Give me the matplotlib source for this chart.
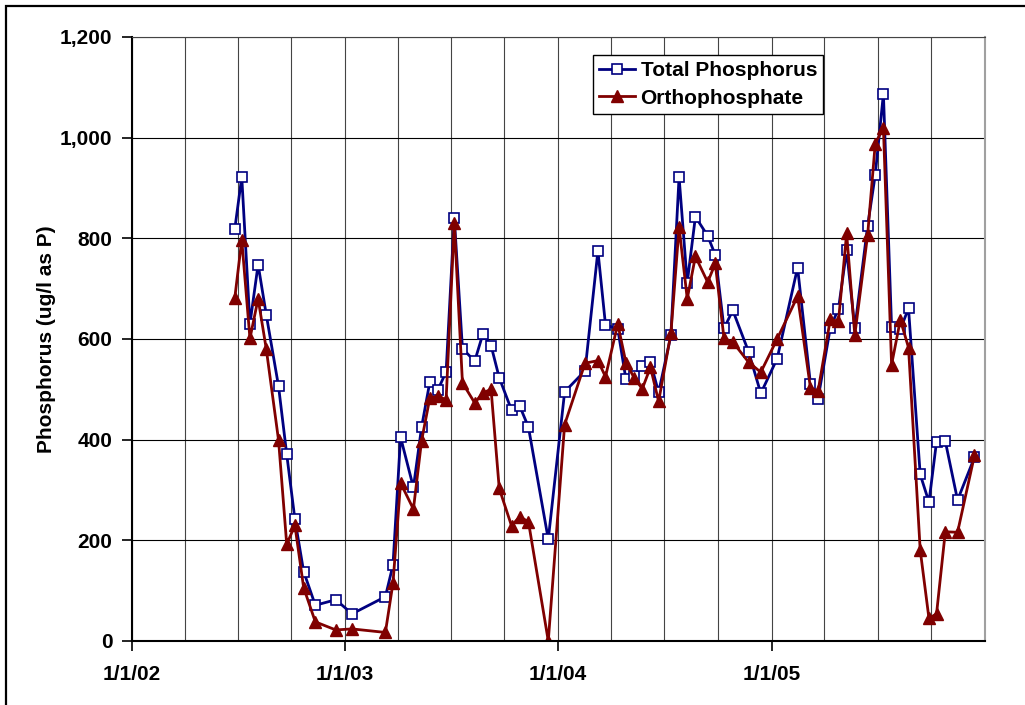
import datetime
import matplotlib
matplotlib.use('Agg')
import matplotlib.pyplot as plt
import matplotlib.dates as mdates
from matplotlib.ticker import FuncFormatter, MultipleLocator, FixedLocator
from matplotlib.patches import Rectangle

sample_dates = ['2002-06-26', '2002-07-08', '2002-07-22', '2002-08-05', '2002-08-19',
                '2002-09-09', '2002-09-23', '2002-10-07', '2002-10-22', '2002-11-11',
                '2002-12-16', '2003-01-13', '2003-03-11', '2003-03-24', '2003-04-06',
                '2003-04-28', '2003-05-12', '2003-05-26', '2003-06-09', '2003-06-23',
                '2003-07-07', '2003-07-21', '2003-08-11', '2003-08-25', '2003-09-08',
                '2003-09-22', '2003-10-13', '2003-10-27', '2003-11-11', '2003-12-15',
                '2004-01-12', '2004-02-16', '2004-03-09', '2004-03-22', '2004-04-12',
                '2004-04-26', '2004-05-10', '2004-05-24', '2004-06-07', '2004-06-21',
                '2004-07-12', '2004-07-26', '2004-08-09', '2004-08-23', '2004-09-13',
                '2004-09-26', '2004-10-11', '2004-10-26', '2004-11-22', '2004-12-13',
                '2005-01-10', '2005-02-14', '2005-03-08', '2005-03-21', '2005-04-11',
                '2005-04-25', '2005-05-09', '2005-05-23', '2005-06-14', '2005-06-27',
                '2005-07-11', '2005-07-25', '2005-08-09', '2005-08-23', '2005-09-12',
                '2005-09-27', '2005-10-10', '2005-10-25', '2005-11-15', '2005-12-14']

total_p = [818, 922, 630, 748, 648, 506, 371, 242, 138, 71,
           82, 54, 88, 151, 405, 305, 425, 514, 499, 535,
           841, 581, 556, 610, 587, 523, 459, 467, 425, 202,
           495, 537, 775, 628, 620, 520, 527, 547, 554, 494,
           607, 922, 712, 843, 805, 767, 621, 657, 575, 492,
           561, 742, 511, 481, 622, 660, 776, 621, 825, 926,
           1087, 624, 619, 661, 331, 276, 396, 397, 280, 365]

ortho_p = [681, 797, 601, 680, 580, 399, 192, 230, 106, 38,
           22, 24, 17, 115, 314, 262, 398, 482, 487, 479,
           830, 513, 473, 493, 500, 303, 229, 247, 237, 0,
           430, 552, 557, 525, 630, 553, 523, 501, 544, 476,
           611, 822, 680, 764, 713, 750, 601, 594, 554, 534,
           600, 685, 503, 496, 639, 635, 810, 608, 807, 988,
           1020, 549, 638, 583, 181, 45, 54, 217, 216, 369]

year_ticks = ['2002-01-01', '2003-01-01', '2004-01-01', '2005-01-01']

plt.rcParams['font.family'] = ['Liberation Sans', 'DejaVu Sans']
plt.rcParams['font.weight'] = 'bold'
fs = 15

dates = [datetime.datetime.strptime(d, '%Y-%m-%d') for d in sample_dates]
ticks = [datetime.datetime.strptime(d, '%Y-%m-%d') for d in year_ticks]

fig = plt.figure(figsize=(10.25, 7.05), dpi=100)
ax = fig.add_axes([132 / 1025, 1 - 641 / 705, 853 / 1025, 604 / 705])

ax.plot(dates, total_p, color='#000080', lw=2, marker='s', ms=7,
        mfc='white', mec='#000080', mew=1.2, label='Total Phosphorus')
ax.plot(dates, ortho_p, color='#800000', lw=2, marker='^', ms=8,
        mfc='#800000', mec='#800000', label='Orthophosphate')

ax.set_xlim(datetime.datetime(2002, 1, 1), datetime.datetime(2006, 1, 1))
ax.set_ylim(0, 1200)

ax.xaxis.set_major_locator(FixedLocator(mdates.date2num(ticks)))
ax.xaxis.set_major_formatter(FuncFormatter(
    lambda v, p: '{d.month}/{d.day}/{d:%y}'.format(d=mdates.num2date(v))))
ax.xaxis.set_minor_locator(mdates.MonthLocator(bymonth=[1, 4, 7, 10]))
ax.yaxis.set_major_locator(MultipleLocator(200))
ax.yaxis.set_major_formatter(FuncFormatter(lambda v, p: '{:,}'.format(int(v))))

ax.grid(True, which='major', axis='y', color='black', lw=0.8)
ax.grid(True, which='both', axis='x', color='#444444', lw=0.8)
ax.set_axisbelow(True)

ax.tick_params(axis='both', which='major', direction='out', length=7, width=1.2,
               labelsize=fs, colors='black')
ax.tick_params(axis='x', which='major', pad=10)
ax.tick_params(axis='y', which='major', pad=7)
ax.tick_params(axis='x', which='minor', length=0)

ax.spines['left'].set_linewidth(1.5)
ax.spines['bottom'].set_linewidth(1.5)
ax.spines['top'].set_color('#444444')
ax.spines['top'].set_linewidth(0.8)
ax.spines['right'].set_color('#a0a0a0')
ax.spines['right'].set_linewidth(1.5)

ax.set_ylabel('Phosphorus (ug/l as P)', fontsize=fs, fontweight='bold', labelpad=3)

leg = ax.legend(loc='upper left', bbox_to_anchor=(0.540, 0.970), borderaxespad=0,
                fontsize=fs, frameon=True, fancybox=False, shadow=False,
                handlelength=1.75, handletextpad=0.25, labelspacing=0.4,
                borderpad=0.3, numpoints=1)
leg.get_frame().set_edgecolor('black')
leg.get_frame().set_linewidth(1.0)
leg.get_frame().set_alpha(1)

fig.patches.append(Rectangle((6 / 1025, -0.1), 1.2, 1.1 - 6 / 705,
                             transform=fig.transFigure, fill=False,
                             edgecolor='black', lw=1.6))

plt.savefig('out.png', dpi=100)
